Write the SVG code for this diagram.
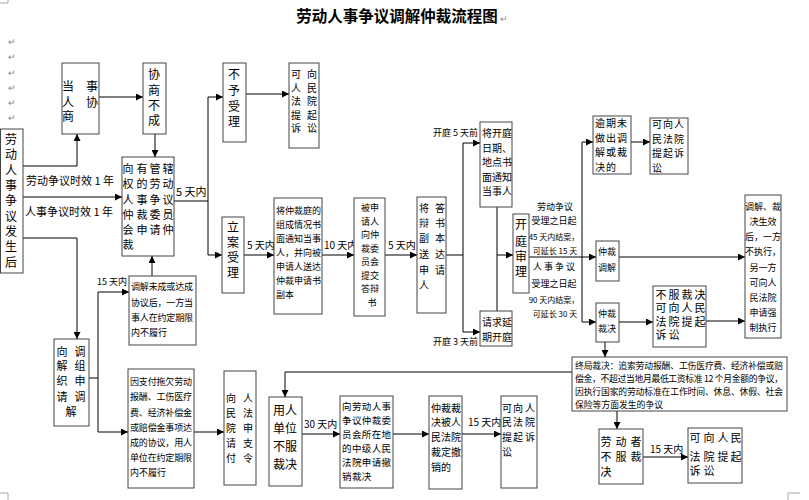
<svg xmlns="http://www.w3.org/2000/svg" width="809" height="500" viewBox="0 0 809 500">
<style>
.b{fill:#fff;stroke:#444;stroke-width:1}
.l{fill:none;stroke:#000;stroke-width:1}
.la{fill:none;stroke:#000;stroke-width:1;marker-end:url(#a)}
text{font-family:"Noto Sans CJK SC","Noto Sans",sans-serif;fill:#000}
.t12{font-size:12px}
.t11{font-size:11px}
.t10{font-size:10px}
.t9{font-size:9px}
.t8{font-size:8px}
.m{text-anchor:middle}
.e{text-anchor:end}
.pm{font-size:9px;fill:#888}
.pg{fill:none;stroke:#aaa;stroke-width:1}
</style>
<defs>
<marker id="a" viewBox="0 0 10 10" refX="10" refY="5" markerWidth="7" markerHeight="7" orient="auto" markerUnits="userSpaceOnUse"><path d="M0,0 L10,5 L0,10 z" fill="#000"/></marker>
</defs>
<rect width="809" height="500" fill="#fff"/>
<path class="pg" d="M8,0 V3 H0 M0,493 H8 V500 M800,493 H788 V500"/>
<text x="397" y="22" class="m" style="font-size:15.5px;font-weight:bold">劳动人事争议调解仲裁流程图</text>
<text x="500" y="22" class="pm">↵</text>
<text class="pm" x="8"><tspan x="8" y="45">↵</tspan><tspan x="8" y="60">↵</tspan><tspan x="8" y="76">↵</tspan><tspan x="8" y="91">↵</tspan><tspan x="8" y="106">↵</tspan><tspan x="8" y="121">↵</tspan></text>

<g id="connectors">
<path class="la" d="M23,166 H77 V134"/>
<path class="la" d="M99,97 H143"/>
<path class="la" d="M155,134 V157"/>
<path class="la" d="M23,197 H122"/>
<path class="la" d="M23,238 H77 V339"/>
<path class="la" d="M208,201 V97 H223"/>
<path class="la" d="M174,201 H208 V255 H222"/>
<path class="la" d="M246,94 H289"/>
<path class="la" d="M244,255 H274"/>
<path class="la" d="M322,255 H354"/>
<path class="la" d="M385,255 H417"/>
<path class="la" d="M446,255 H463 V143 H480"/>
<path class="la" d="M463,255 V332 H480"/>
<path class="l" d="M497,207 V311"/>
<path class="la" d="M497,255 H513"/>
<path class="la" d="M529,257 H582 V142 H593"/>
<path class="la" d="M582,257 V322 H596"/>
<path class="la" d="M582,257 H596"/>
<path class="la" d="M631,142 H650"/>
<path class="la" d="M619,257 H745"/>
<path class="la" d="M619,322 H653"/>
<path class="la" d="M706,321 H745"/>
<path class="la" d="M605,342 V357"/>
<path class="la" d="M572,372 H285 V397"/>
<path class="la" d="M617,411 V429"/>
<path class="la" d="M643,457 H688"/>
<path class="la" d="M302,434 H340"/>
<path class="la" d="M393,434 H429"/>
<path class="la" d="M462,434 H501"/>
<path class="la" d="M152,276 V256"/>
<path class="la" d="M89,378 H98 V292 H129"/>
<path class="la" d="M98,378 V432 H128"/>
<path class="la" d="M194,432 H224"/>
<text x="26" y="185" class="t11">劳动争议时效 1 年</text>
<text x="25" y="216" class="t11">人事争议时效 1 年</text>
<text x="176" y="196" class="t11">5 天内</text>
<text x="247" y="249" class="t10">5 天内</text>
<text x="324" y="249" class="t10">10 天内</text>
<text x="388" y="249" class="t10">5 天内</text>
<text x="478" y="136" class="t9 e">开庭 5 天前</text>
<text x="478" y="345" class="t9 e">开庭 3 天前</text>
<text class="t9 m"><tspan x="555" y="210">劳动争议</tspan><tspan x="554" y="224">受理之日起</tspan></text>
<text class="t8 m"><tspan x="554" y="240">45 天内结案，</tspan><tspan x="555" y="254">可延长 15 天</tspan></text>
<text class="t9 m"><tspan x="555" y="270" letter-spacing="2">人事争议</tspan><tspan x="554" y="287">受理之日起</tspan></text>
<text class="t8 m"><tspan x="554" y="303">90 天内结案，</tspan><tspan x="555" y="317">可延长 30 天</tspan></text>
<text x="97" y="285" class="t9">15 天内</text>
<text x="650" y="453" class="t10">15 天内</text>
<text x="304" y="428" class="t10">30 天内</text>
<text x="468" y="426" class="t10">15 天内</text>
</g>

<g id="n-start">
<rect class="b" x="0.5" y="129" width="22.5" height="144"/>
<text class="t12 m" x="11 11 11 11 11 11 11 11 11" y="144 159 175 190 205 221 236 251 267">劳动人事争议发生后</text>
</g>
<g id="n-negotiate">
<rect class="b" x="62" y="63" width="37" height="71"/>
<text class="t12 m" x="68 92 68 92 68" y="91 91 107 107 121">当事人协商</text>
</g>
<g id="n-fail">
<rect class="b" x="143" y="63" width="23" height="71"/>
<text class="t12 m" x="154 154 154 154" y="79 95 110 125">协商不成</text>
</g>
<g id="n-apply">
<rect class="b" x="122" y="157" width="52" height="99"/>
<text class="t11 m" x="128 142 155 168 128 142 155 168 128 142 155 168 128 142 155 168 128 142 155 168 128" y="173 173 173 173 188 188 188 188 204 204 204 204 219 219 219 219 234 234 234 234 249">向有管辖权的劳动人事争议仲裁委员会申请仲裁</text>
</g>
<g id="n-reject">
<rect class="b" x="223" y="63" width="23" height="79"/>
<text class="t12 m" x="234 234 234 234" y="79 95 111 126">不予受理</text>
</g>
<g id="n-court1">
<rect class="b" x="289" y="63" width="30" height="85"/>
<text class="t10 m" x="296 312 296 312 296 312 296 312 296 312" y="78 78 92 92 105 105 119 119 132 132">可向人民法院提起诉讼</text>
</g>
<g id="n-accept">
<rect class="b" x="222" y="217" width="22" height="76"/>
<text class="t12 m" x="233 233 233 233" y="232 247 262 277">立案受理</text>
</g>
<g id="n-notify">
<rect class="b" x="274" y="198" width="48" height="116"/>
<text class="t9"><tspan x="276" y="214">将仲裁庭的</tspan><tspan x="276" y="228">组成情况书</tspan><tspan x="276" y="242">面通知当事</tspan><tspan x="276" y="256">人，并向被</tspan><tspan x="276" y="270">申请人送达</tspan><tspan x="276" y="284">仲裁申请书</tspan><tspan x="276" y="298">副本</tspan></text>
</g>
<g id="n-defend">
<rect class="b" x="354" y="198" width="31" height="118"/>
<text class="t9 m"><tspan x="370" y="211">被申</tspan><tspan x="370" y="224.5">请人</tspan><tspan x="370" y="238">向仲</tspan><tspan x="370" y="251.5">裁委</tspan><tspan x="370" y="265">员会</tspan><tspan x="370" y="278.5">提交</tspan><tspan x="370" y="292">答辩</tspan><tspan x="372" y="305.5">书</tspan></text>
</g>
<g id="n-deliver">
<rect class="b" x="417" y="197" width="29" height="116"/>
<text class="t10 m" x="424 440 424 440 424 440 424 440 424 440 424" y="212 212 227 227 242 242 258 258 274 274 289">将答辩书副本送达申请人</text>
</g>
<g id="n-notice">
<rect class="b" x="480" y="122" width="32" height="85"/>
<text class="t10"><tspan x="482" y="137">将开庭</tspan><tspan x="482" y="151.5">日期、</tspan><tspan x="482" y="166">地点书</tspan><tspan x="482" y="180.5">面通知</tspan><tspan x="482" y="195">当事人</tspan></text>
</g>
<g id="n-delay">
<rect class="b" x="480" y="311" width="32" height="35"/>
<text class="t10"><tspan x="482" y="326">请求延</tspan><tspan x="482" y="341">期开庭</tspan></text>
</g>
<g id="n-hearing">
<rect class="b" x="513" y="214" width="16" height="79"/>
<text class="t12 m" x="521 521 521 521" y="229 246 261 276">开庭审理</text>
</g>
<g id="n-overdue">
<rect class="b" x="593" y="116" width="38" height="58"/>
<text class="t10" letter-spacing="1"><tspan x="595" y="127">逾期未</tspan><tspan x="595" y="141.5">做出调</tspan><tspan x="595" y="156">解或裁</tspan><tspan x="595" y="170.5">决的</tspan></text>
</g>
<g id="n-court2">
<rect class="b" x="650" y="118" width="38" height="56"/>
<text class="t10" letter-spacing="1"><tspan x="652" y="128">可向人</tspan><tspan x="652" y="142.5">民法院</tspan><tspan x="652" y="157">提起诉</tspan><tspan x="652" y="171.5">讼</tspan></text>
</g>
<g id="n-mediate">
<rect class="b" x="596" y="241" width="23" height="40"/>
<text class="t9"><tspan x="598" y="255">仲裁</tspan><tspan x="598" y="271">调解</tspan></text>
</g>
<g id="n-award">
<rect class="b" x="596" y="303" width="23" height="39"/>
<text class="t9"><tspan x="598" y="317">仲裁</tspan><tspan x="598" y="332">裁决</tspan></text>
</g>
<g id="n-enforce">
<rect class="b" x="745" y="195" width="36" height="143"/>
<text class="t9 m"><tspan x="763" y="210">调解、裁</tspan><tspan x="763" y="225">决生效</tspan><tspan x="763" y="240">后，一方</tspan><tspan x="763" y="255">不执行，</tspan><tspan x="763" y="271">另一方</tspan><tspan x="763" y="286">可向人</tspan><tspan x="763" y="301">民法院</tspan><tspan x="763" y="316">申请强</tspan><tspan x="763" y="331">制执行</tspan></text>
</g>
<g id="n-court3">
<rect class="b" x="653" y="286" width="53" height="61"/>
<text class="t11 m" x="661 674 687 700 661 674 687 700 661 674 687 700 661 674" y="299 299 299 299 312 312 312 312 326 326 326 326 339 339">不服裁决可向人民法院提起诉讼</text>
</g>
<g id="n-final">
<rect class="b" x="572" y="357" width="215" height="54"/>
<text style="font-size:8.8px"><tspan x="575" y="369" textLength="208">终局裁决：追索劳动报酬、工伤医疗费、经济补偿或赔</tspan><tspan x="575" y="382" textLength="208">偿金，不超过当地月最低工资标准 12 个月金额的争议，</tspan><tspan x="575" y="395" textLength="208">因执行国家的劳动标准在工作时间、休息、休假、社会</tspan><tspan x="575" y="408">保险等方面发生的争议</tspan></text>
</g>
<g id="n-employer">
<rect class="b" x="269" y="397" width="33" height="89"/>
<text class="t12"><tspan x="273" y="415">用人</tspan><tspan x="273" y="433">单位</tspan><tspan x="273" y="451">不服</tspan><tspan x="273" y="469">裁决</tspan></text>
</g>
<g id="n-revoke">
<rect class="b" x="340" y="396" width="53" height="92"/>
<text style="font-size:9.5px" letter-spacing="0.4"><tspan x="342" y="410">向劳动人事</tspan><tspan x="342" y="424">争议仲裁委</tspan><tspan x="342" y="438">员会所在地</tspan><tspan x="342" y="452">的中级人民</tspan><tspan x="342" y="466">法院申请撤</tspan><tspan x="342" y="480">销裁决</tspan></text>
</g>
<g id="n-revoked">
<rect class="b" x="429" y="396" width="33" height="93"/>
<text class="t10 m" x="436 446 456 436 446 456 436 446 456 436 446 456 436 446" y="412 412 412 426 426 426 441 441 441 456 456 456 471 471">仲裁裁决被人民法院裁定撤销的</text>
</g>
<g id="n-court4">
<rect class="b" x="501" y="396" width="36" height="92"/>
<text class="t10 m" x="507 518 530 507 518 530 507 518 530 507" y="412 412 412 426 426 426 441 441 441 456">可向人民法院提起诉讼</text>
</g>
<g id="n-worker">
<rect class="b" x="599" y="429" width="44" height="55"/>
<text class="t11 m" x="606 621 636 606 621 636 606" y="446 446 446 461 461 461 476">劳动者不服裁决</text>
</g>
<g id="n-court5">
<rect class="b" x="688" y="428" width="54" height="55"/>
<text class="t11 m" x="695 709 723 736 695 709 723 736 695 709" y="442 442 442 442 461 461 461 461 475 475">可向人民法院提起诉讼</text>
</g>
<g id="n-mediation">
<rect class="b" x="129" y="276" width="67" height="69"/>
<text class="t9"><tspan x="131" y="290" textLength="62">调解未成或达成</tspan><tspan x="131" y="306" textLength="62">协议后，一方当</tspan><tspan x="131" y="321" textLength="62">事人在约定期限</tspan><tspan x="131" y="336">内不履行</tspan></text>
</g>
<g id="n-org">
<rect class="b" x="54" y="339" width="35" height="87"/>
<text class="t11 m" x="62 80 62 80 62 80 62 80 71" y="356 356 370 370 385 385 401 401 416">向调解组织申请调解</text>
</g>
<g id="n-pay">
<rect class="b" x="128" y="369" width="66" height="119"/>
<text class="t9"><tspan x="130" y="385" textLength="62">因支付拖欠劳动</tspan><tspan x="130" y="400" textLength="62">报酬、工伤医疗</tspan><tspan x="130" y="416" textLength="62">费、经济补偿金</tspan><tspan x="130" y="431" textLength="62">或赔偿金事项达</tspan><tspan x="130" y="446" textLength="62">成的协议，用人</tspan><tspan x="130" y="461" textLength="62">单位在约定期限</tspan><tspan x="130" y="476">内不履行</tspan></text>
</g>
<g id="n-order">
<rect class="b" x="224" y="371" width="32" height="114"/>
<text class="t10 m" x="231 248 231 248 231 248 231 248 231 248" y="402 402 417 417 432 432 447 447 462 462">向人民法院申请支付令</text>
</g>
</svg>
